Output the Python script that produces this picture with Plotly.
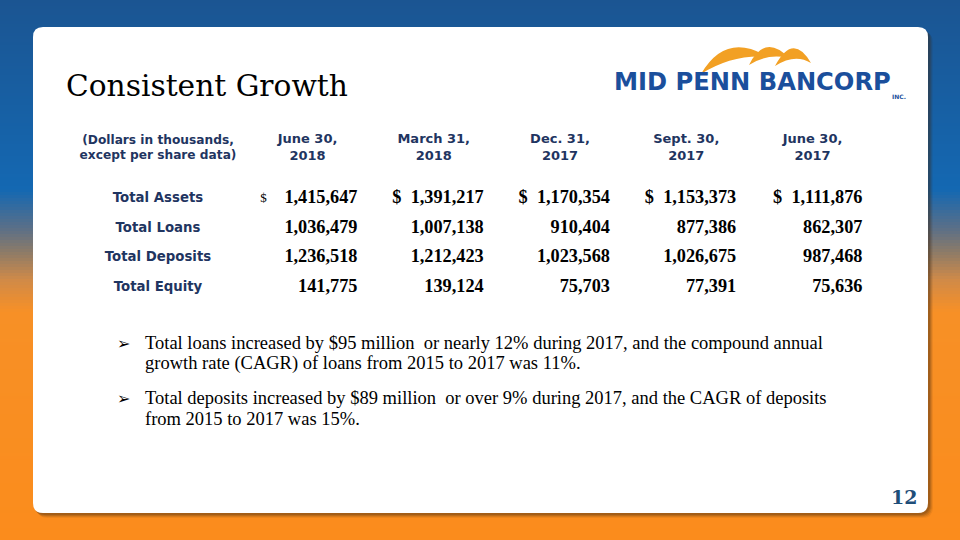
import plotly.graph_objects as go

W, H = 960, 540

# ---------------- data ----------------
header_label = "(Dollars in thousands,<br>except per share data)"
period_labels = ["June 30,<br>2018", "March 31,<br>2018", "Dec. 31,<br>2017", "Sept. 30,<br>2017", "June 30,<br>2017"]
row_labels = ["Total Assets", "Total Loans", "Total Deposits", "Total Equity"]
jun_2018 = [1415647, 1036479, 1236518, 141775]
mar_2018 = [1391217, 1007138, 1212423, 139124]
dec_2017 = [1170354, 910404, 1023568, 75703]
sep_2017 = [1153373, 877386, 1026675, 77391]
jun_2017 = [1111876, 862307, 987468, 75636]
period_values = [jun_2018, mar_2018, dec_2017, sep_2017, jun_2017]

title_text = "Consistent Growth"
bullets = [
    ["Total loans increased by $95 million  or nearly 12% during 2017, and the compound annual",
     "growth rate (CAGR) of loans from 2015 to 2017 was 11%."],
    ["Total deposits increased by $89 million  or over 9% during 2017, and the CAGR of deposits",
     "from 2015 to 2017 was 15%."],
]
page_number = "12"

# ---------------- layout helpers ----------------
def px(x):
    return x / W

def py(y):
    return 1 - y / H

NAVY = "#1f3561"

def hex2rgb(h):
    h = h.lstrip("#")
    return [int(h[i:i + 2], 16) for i in (0, 2, 4)]

grad_stops = [(0, "#1b5592"), (190, "#1468b2"), (228, "#5a6f88"), (252, "#8c7b68"),
              (280, "#d08a48"), (312, "#f79026"), (540, "#fb8c1c")]

def grad_color(y):
    for (y0, c0), (y1, c1) in zip(grad_stops[:-1], grad_stops[1:]):
        if y0 <= y <= y1:
            t = (y - y0) / (y1 - y0) if y1 > y0 else 0
            a, b = hex2rgb(c0), hex2rgb(c1)
            return "rgb(%d,%d,%d)" % tuple(round(a[i] + (b[i] - a[i]) * t) for i in range(3))
    return grad_stops[-1][1]

shapes = []
step = 3
for y in range(0, H, step):
    shapes.append(dict(type="rect", xref="paper", yref="paper", x0=0, x1=1,
                       y0=py(y + step + 0.5), y1=py(y), fillcolor=grad_color(y + step / 2),
                       line=dict(width=0), layer="below"))

def rounded_rect(x0, y0, x1, y1, r):
    pts = [
        f"M {px(x0 + r)} {py(y0)}",
        f"L {px(x1 - r)} {py(y0)}",
        f"Q {px(x1)} {py(y0)} {px(x1)} {py(y0 + r)}",
        f"L {px(x1)} {py(y1 - r)}",
        f"Q {px(x1)} {py(y1)} {px(x1 - r)} {py(y1)}",
        f"L {px(x0 + r)} {py(y1)}",
        f"Q {px(x0)} {py(y1)} {px(x0)} {py(y1 - r)}",
        f"L {px(x0)} {py(y0 + r)}",
        f"Q {px(x0)} {py(y0)} {px(x0 + r)} {py(y0)}",
        "Z",
    ]
    return " ".join(pts)

# shadow + card
for off, alpha in [(5, 0.08), (4, 0.12), (3, 0.16), (2, 0.2)]:
    shapes.append(dict(type="path", xref="paper", yref="paper",
                       path=rounded_rect(33 + off - 1, 27 + off, 928 + off, 513 + off, 11),
                       fillcolor=f"rgba(60,40,20,{alpha})", line=dict(width=0), layer="below"))
shapes.append(dict(type="path", xref="paper", yref="paper",
                   path=rounded_rect(33, 27, 928, 513, 10),
                   fillcolor="white", line=dict(width=0), layer="below"))

# logo swoosh (three arches)
def crescent(ax, ay, cx_o, cy_o, bx, by, cx_i, cy_i):
    return (f"M {px(ax)} {py(ay)} Q {px(cx_o)} {py(cy_o)} {px(bx)} {py(by)} "
            f"Q {px(cx_i)} {py(cy_i)} {px(ax)} {py(ay)} Z")

ORANGE = "#f2a024"
for arc in [
    (701, 74, 726, 31, 768, 57, 733, 54),
    (749, 65, 765, 33, 789, 58, 767, 53),
    (775, 66, 793, 32, 811, 63, 795, 53),
]:
    shapes.append(dict(type="path", xref="paper", yref="paper", path=crescent(*arc),
                       fillcolor=ORANGE, line=dict(width=0), layer="above"))

# ---------------- table as text on hidden axes ----------------
COL_RIGHT0, COL_STEP = 357.5, 126.25    # pixel position of first number column's right edge, column pitch
ROW0, ROW_STEP = 198.5, 29.7            # pixel centre of first data row, row pitch
LABEL_X = (158 - COL_RIGHT0) / COL_STEP
HEADER_DX = -50 / COL_STEP
HEADER_Y = (148.5 - ROW0) / ROW_STEP

rows = list(range(len(row_labels)))
fig = go.Figure()

# row labels
fig.add_trace(go.Scatter(
    x=[LABEL_X] * len(row_labels), y=rows, mode="text",
    text=[f"<b>{r}</b>" for r in row_labels], textposition="middle center",
    textfont=dict(family="DejaVu Sans", size=13.3, color=NAVY), hoverinfo="skip"))

# header
fig.add_trace(go.Scatter(
    x=[LABEL_X], y=[HEADER_Y], mode="text",
    text=[f"<b>{header_label}</b>"], textposition="middle center",
    textfont=dict(family="DejaVu Sans", size=12.2, color=NAVY), hoverinfo="skip"))
fig.add_trace(go.Scatter(
    x=[c + HEADER_DX for c in range(len(period_labels))],
    y=[HEADER_Y] * len(period_labels), mode="text",
    text=[f"<b>{p}</b>" for p in period_labels],
    textposition="middle center",
    textfont=dict(family="DejaVu Sans", size=13, color=NAVY), hoverinfo="skip"))

# numbers
for ci, col in enumerate(period_values):
    texts = []
    for ri, v in enumerate(col):
        s = f"{v:,}"
        if ri == 0 and ci > 0:
            s = "$\u00a0\u00a0" + s
        texts.append(f"<b>{s}</b>")
    fig.add_trace(go.Scatter(
        x=[ci] * len(col), y=rows, mode="text", text=texts, textposition="middle left",
        textfont=dict(family="Liberation Serif", size=18.3, color="black"), hoverinfo="skip"))

# small dollar sign of first column
fig.add_trace(go.Scatter(
    x=[-94 / COL_STEP], y=[0], mode="text", text=["$"], textposition="middle center",
    textfont=dict(family="Liberation Serif", size=13, color="black"), hoverinfo="skip"))

annotations = []
annotations.append(dict(text=title_text, x=px(64), y=py(86), xref="paper", yref="paper",
                        xanchor="left", yanchor="middle", showarrow=False,
                        font=dict(family="DejaVu Serif", size=29.7, color="black")))
annotations.append(dict(text="<b>MID PENN BANCORP</b>", x=px(612), y=py(82), xref="paper", yref="paper",
                        xanchor="left", yanchor="middle", showarrow=False,
                        font=dict(family="DejaVu Sans", size=24.2, color="#1b4f9c")))
annotations.append(dict(text="<b>INC.</b>", x=px(890), y=py(97), xref="paper", yref="paper",
                        xanchor="left", yanchor="middle", showarrow=False,
                        font=dict(family="DejaVu Sans", size=6, color="#1b4f9c")))

line_y = [[343, 363], [398, 419]]
for bi, lines in enumerate(bullets):
    annotations.append(dict(text="\u27a2", x=px(115), y=py(line_y[bi][0]), xref="paper", yref="paper",
                            xanchor="left", yanchor="middle", showarrow=False,
                            font=dict(family="DejaVu Sans", size=16, color="black")))
    for li, t in enumerate(lines):
        annotations.append(dict(text=t, x=px(143), y=py(line_y[bi][li]), xref="paper", yref="paper",
                                xanchor="left", yanchor="middle", showarrow=False,
                                font=dict(family="Liberation Serif", size=18.5, color="black")))

annotations.append(dict(text=f"<b>{page_number}</b>", x=px(919), y=py(497), xref="paper", yref="paper",
                        xanchor="right", yanchor="middle", showarrow=False,
                        font=dict(family="DejaVu Serif", size=19, color="#1f4e79")))

fig.update_layout(
    width=W, height=H, margin=dict(l=0, r=0, t=0, b=0, pad=0),
    paper_bgcolor="#fb8c1c", plot_bgcolor="rgba(0,0,0,0)",
    shapes=shapes, annotations=annotations, showlegend=False,
    xaxis=dict(visible=False, range=[-COL_RIGHT0 / COL_STEP, (W - COL_RIGHT0) / COL_STEP],
               domain=[0, 1], fixedrange=True),
    yaxis=dict(visible=False, range=[(H - ROW0) / ROW_STEP, -ROW0 / ROW_STEP],
               domain=[0, 1], fixedrange=True),
)

fig.write_html("out.html", config={"displayModeBar": False},
               post_script="document.body.style.margin='0px';")
